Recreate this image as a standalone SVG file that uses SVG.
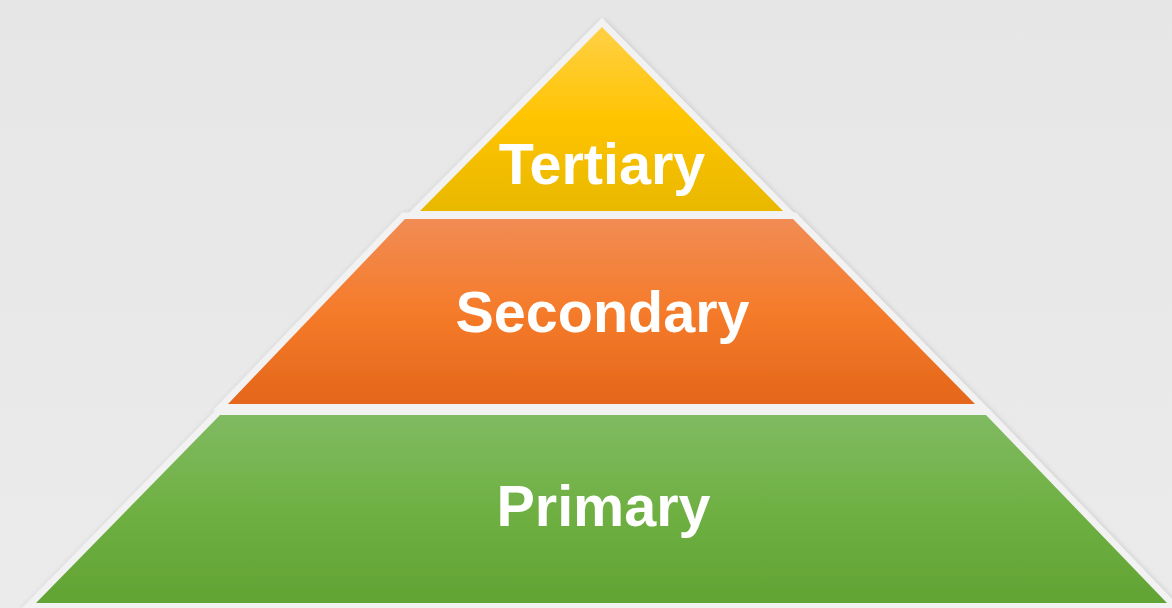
<svg xmlns="http://www.w3.org/2000/svg" width="1172" height="608" viewBox="0 0 1172 608">
<style>
.lbl{font-family:"Liberation Sans",Arial,sans-serif;font-weight:bold;font-size:57.5px;fill:#ffffff;text-anchor:middle}
.tier{stroke:#f2f2f2;stroke-width:13;stroke-linejoin:miter;stroke-miterlimit:10;paint-order:stroke}
</style>
<defs>
<linearGradient id="bg" x1="0" y1="0" x2="0" y2="1">
<stop offset="0" stop-color="#e6e6e6"/><stop offset="1" stop-color="#ebebeb"/>
</linearGradient>
<linearGradient id="gy" x1="0" y1="0" x2="0" y2="1">
<stop offset="0" stop-color="#ffd046"/><stop offset="0.5" stop-color="#ffc400"/><stop offset="1" stop-color="#e8b800"/>
</linearGradient>
<linearGradient id="go" x1="0" y1="0" x2="0" y2="1">
<stop offset="0" stop-color="#f18c54"/><stop offset="0.5" stop-color="#f57b2a"/><stop offset="1" stop-color="#e4661a"/>
</linearGradient>
<linearGradient id="gg" x1="0" y1="0" x2="0" y2="1">
<stop offset="0" stop-color="#80ba62"/><stop offset="0.5" stop-color="#6fb043"/><stop offset="1" stop-color="#62a334"/>
</linearGradient>
<filter id="sh" x="-5%" y="-5%" width="110%" height="110%">
<feGaussianBlur in="SourceAlpha" stdDeviation="3"/>
<feOffset dx="1" dy="2" result="b"/>
<feComponentTransfer><feFuncA type="linear" slope="0.22"/></feComponentTransfer>
<feMerge><feMergeNode/><feMergeNode in="SourceGraphic"/></feMerge>
</filter>
</defs>
<rect width="1172" height="608" fill="url(#bg)"/>
<g filter="url(#sh)">
<polygon class="tier" points="602,27 783,211 420,211" fill="url(#gy)"/>
<polygon class="tier" points="405,219 793,219 975,404 228,404" fill="url(#go)"/>
<polygon class="tier" points="220,415 986,415 1167,603 36,603" fill="url(#gg)"/>
</g>
<g id="tertiary">
<text class="lbl" x="602" y="184">Tertiary</text>
</g>
<g id="secondary">
<text class="lbl" x="602.5" y="332">Secondary</text>
</g>
<g id="primary">
<text class="lbl" x="603.5" y="526">Primary</text>
</g>
<g id="connectors"/>
</svg>
